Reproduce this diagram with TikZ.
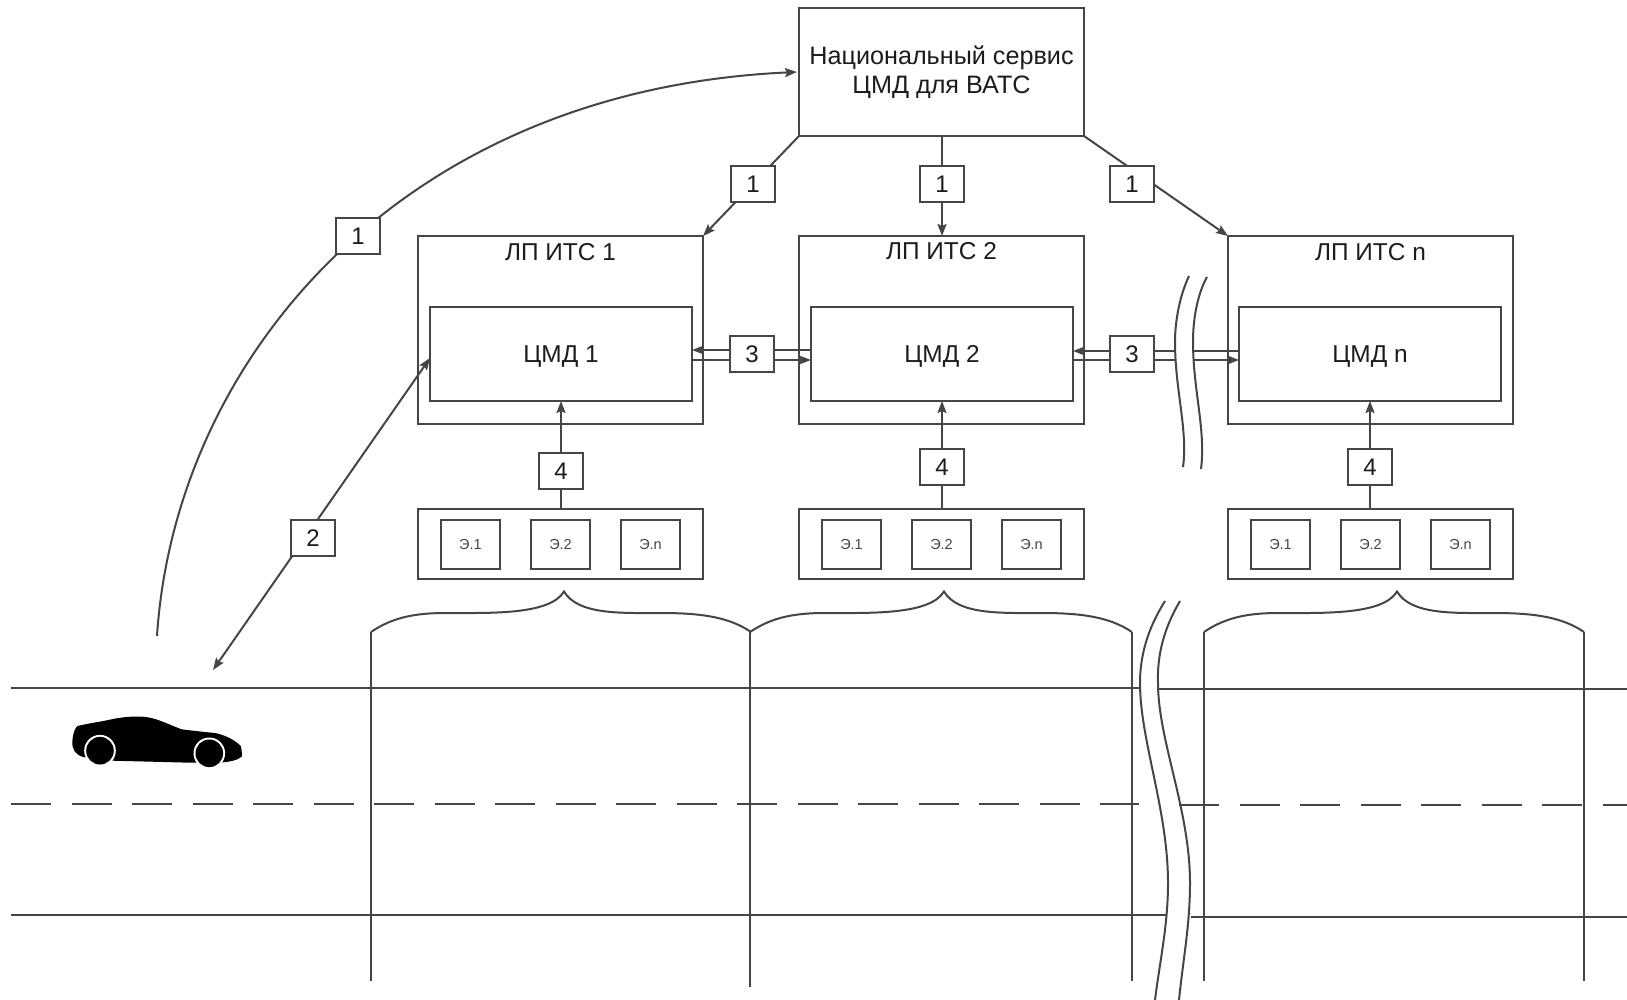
\documentclass[tikz,border=0pt]{standalone}
\usepackage{fontspec}
\setmainfont{Liberation Sans}
\usetikzlibrary{arrows.meta}
\definecolor{ink}{HTML}{454545}
\definecolor{txt}{HTML}{1C1C1C}
\tikzset{
  base/.style={draw=ink,line width=2pt,fill=white,inner sep=0pt,outer sep=0pt,text=txt,align=center},
  topbox/.style={base,minimum width=285pt,minimum height=128pt,font=\fontsize{25.2}{29}\selectfont},
  lpbox/.style={base,minimum width=285pt,minimum height=188pt},
  cmdbox/.style={base,minimum width=262pt,minimum height=94pt,font=\fontsize{24.4}{29}\selectfont},
  contbox/.style={base,minimum width=285pt,minimum height=70pt},
  elbox/.style={base,minimum width=59pt,minimum height=49pt,font=\fontsize{14.5}{17}\selectfont,text=ink},
  tagbox/.style={base,minimum width=44pt,minimum height=36pt,font=\fontsize{24}{29}\selectfont},
  titletext/.style={inner sep=0pt,text=txt,font=\fontsize{24.4}{29}\selectfont},
  wire/.style={draw=ink,line width=2pt},
  arrowwire/.style={wire,-{Stealth[length=12pt,width=9pt,inset=2pt]}},
  bothwire/.style={wire,{Stealth[length=12pt,width=9pt,inset=2pt]}-{Stealth[length=12pt,width=9pt,inset=2pt]}},
  roadline/.style={draw=ink,line width=2pt},
  roaddash/.style={roadline,dash pattern=on 40pt off 20.5pt},
  pics/roadbrace/.style={code={
    \draw[wire] (0,632) .. controls (22,617) and (45,613) .. (75,613)
      .. controls (120,613) and (179,615) .. (193,591.5)
      .. controls (207,615) and (250,613) .. (290,613)
      .. controls (330,613) and (358,617) .. (380,632);
  }}
}
\begin{document}
\begin{tikzpicture}[x=1pt,y=-1pt]
\useasboundingbox (0,0) rectangle (1627,1000);
% road
\draw[roadline] (11,688) -- (1140,688);
\draw[roadline] (1158,689) -- (1627,689);
\draw[roaddash] (11,804) -- (1139,804);
\draw[roaddash] (1179,805) -- (1627,805);
\draw[roadline] (11,915) -- (1167,915);
\draw[roadline] (1191,917) -- (1627,917);
% section verticals and braces
\pic at (371,0) {roadbrace};
\pic[xscale=1.005] at (750,0) {roadbrace};
\pic at (1204,0) {roadbrace};
\draw[wire] (371,632) -- (371,981);
\draw[wire] (750,632) -- (750,987);
\draw[wire] (1132,632) -- (1132,981);
\draw[wire] (1204,632) -- (1204,981);
\draw[wire] (1584,632) -- (1584,981);
% lower break
\draw[wire] (1165,601) .. controls (1148,628) and (1140,655) .. (1140,683)
  .. controls (1140,740) and (1168,810) .. (1168,883)
  .. controls (1168,925) and (1160,960) .. (1155,1000);
\draw[wire] (1180,601) .. controls (1164,628) and (1157,655) .. (1158,683)
  .. controls (1158,740) and (1190,810) .. (1190,883)
  .. controls (1190,925) and (1183,960) .. (1179,1000);
% car
\fill[black] (72.3,741.7) .. controls (73,733) and (75,728) .. (77.5,726)
  .. controls (90,723) and (100,722) .. (113,719)
  .. controls (125,716.5) and (135,716.5) .. (140,716.5)
  .. controls (155,717) and (165,723) .. (181.5,729.3)
  .. controls (195,731) and (205,732) .. (215,733)
  .. controls (225,735) and (235,740) .. (240.7,746)
  .. controls (242,750) and (242,755) .. (241.7,756.7)
  .. controls (238,760) and (230,762) .. (220,762.5)
  -- (190,762.7) -- (113,760.7) -- (83,757)
  .. controls (76,755) and (72,750) .. (72.3,741.7) -- cycle;
\foreach \cx/\cy in {100/750.7,209.3/753.3}{
  \fill[white] (\cx,\cy) circle (15.8pt);
  \fill[black] (\cx,\cy) circle (13.8pt);
}
% boxes
\node[topbox] (top) at (941.5,72) {Национальный сервис\\ЦМД для ВАТС};
\node[lpbox] (lp1) at (560.5,330) {};
\node[lpbox] (lp2) at (941.5,330) {};
\node[lpbox] (lpn) at (1370.5,330) {};
\node[titletext] (lp1t) at (560.5,252) {ЛП ИТС 1};
\node[titletext] (lp2t) at (941.5,251) {ЛП ИТС 2};
\node[titletext] (lpnt) at (1370.5,252) {ЛП ИТС n};
\node[cmdbox,text depth=-3pt] (cmd1) at (561,354) {ЦМД 1};
\node[cmdbox,text depth=-3pt] (cmd2) at (942,354) {ЦМД 2};
\node[cmdbox,text depth=-3pt] (cmdn) at (1370,354) {ЦМД n};
\foreach \nm/\cx in {a/560.5,b/941.5,c/1370.5}{
  \node[contbox] (cont\nm) at (\cx,544) {};
  \node[elbox] (el\nm1) at (\cx-90,544.5) {Э.1};
  \node[elbox] (el\nm2) at (\cx,544.5) {Э.2};
  \node[elbox] (el\nm3) at (\cx+90,544.5) {Э.n};
}
% free ends
\coordinate (carleft) at (157,636);
\coordinate (carright) at (213,670);
% connectors
\draw[arrowwire] (carleft) .. controls (175,360) and (400,90) .. ([xshift=-2pt]top.west);
\draw[bothwire] ([yshift=-4pt]cmd1.west) -- (carright);
\draw[arrowwire] (top.south west) -- (lp1.north east);
\draw[arrowwire] ([xshift=.5pt]top.south) -- ([xshift=.5pt]lp2.north);
\draw[arrowwire] (top.south east) -- (lpn.north west);
\draw[arrowwire] ([yshift=4pt]cmd2.west) -- ([yshift=4pt]cmd1.east);
\draw[arrowwire] ([yshift=-6pt]cmd1.east) -- ([yshift=-6pt]cmd2.west);
\draw[arrowwire] ([yshift=3pt]cmdn.west) -- ([yshift=3pt]cmd2.east);
\draw[arrowwire] ([yshift=-6pt]cmd2.east) -- ([yshift=-6pt]cmdn.west);
\draw[arrowwire] (cmd1.south |- conta.north) -- (cmd1.south);
\draw[arrowwire] (cmd2.south |- contb.north) -- (cmd2.south);
\draw[arrowwire] (cmdn.south |- contc.north) -- (cmdn.south);
% upper break
\fill[white] (1189,276) .. controls (1180,295) and (1175,320) .. (1175,342)
  .. controls (1175,390) and (1188,430) .. (1183,467) -- (1201,469)
  .. controls (1206,430) and (1193,390) .. (1193,342)
  .. controls (1193,320) and (1197,295) .. (1207,277) -- cycle;
\draw[wire] (1189,276) .. controls (1180,295) and (1175,320) .. (1175,342)
  .. controls (1175,390) and (1188,430) .. (1183,467);
\draw[wire] (1207,277) .. controls (1197,295) and (1193,320) .. (1193,342)
  .. controls (1193,390) and (1206,430) .. (1201,469);
% tags
\node[tagbox] (t0) at (358,236) {1};
\node[tagbox] (t1a) at (753,184) {1};
\node[tagbox] (t1b) at (942,184) {1};
\node[tagbox] (t1c) at (1132,184) {1};
\node[tagbox] (t2) at (313,538) {2};
\node[tagbox] (t3a) at (752,354) {3};
\node[tagbox] (t3b) at (1132,354) {3};
\node[tagbox] (t4a) at (561,471) {4};
\node[tagbox] (t4b) at (942,467) {4};
\node[tagbox] (t4n) at (1370,467) {4};
\end{tikzpicture}
\end{document}
